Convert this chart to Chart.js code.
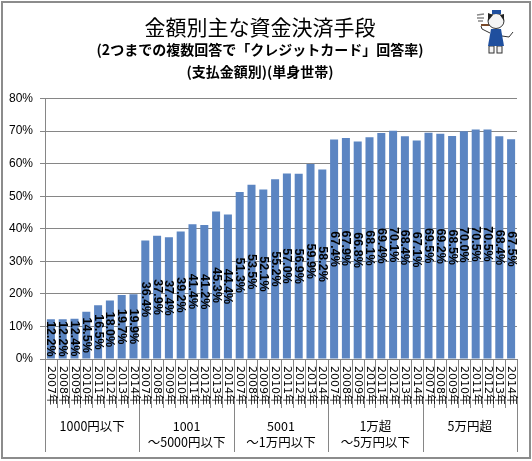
<!DOCTYPE html>
<html>
<head>
<meta charset="utf-8">
<style>
html, body { margin: 0; padding: 0; background: #fff; }
#wrap { position: relative; width: 532px; height: 461px; }
canvas { display: block; }
</style>
<script src="https://cdn.jsdelivr.net/npm/chart.js@4"></script>
</head>
<body>
<div id="wrap"><canvas id="chart" width="532" height="461"></canvas></div>
<script>
const years = ['2007年', '2008年', '2009年', '2010年', '2011年', '2012年', '2013年', '2014年'];
const groupLabels = [['1000円以下'], ['1001', '〜5000円以下'], ['5001', '〜1万円以下'], ['1万超', '〜5万円以下'], ['5万円超']];
const under1000 = [12.2, 12.2, 12.4, 14.5, 16.5, 18.0, 19.7, 19.9];
const under5000 = [36.4, 37.9, 37.4, 39.2, 41.4, 41.2, 45.3, 44.4];
const under10000 = [51.3, 53.5, 52.1, 55.2, 57.0, 56.9, 59.9, 58.2];
const under50000 = [67.4, 67.9, 66.8, 68.1, 69.4, 70.1, 68.4, 67.1];
const over50000 = [69.5, 69.2, 68.5, 70.0, 70.5, 70.5, 68.4, 67.5];

const font = '"Noto Sans CJK JP", sans-serif';
const grey = '#868686';
const values = [...under1000, ...under5000, ...under10000, ...under50000, ...over50000];
const labels = [];
groupLabels.forEach((g, i) => years.forEach(y => labels.push([i, y])));

// outer frame and the tick marks / group dividers under the axis
const framePlugin = {
    id: 'frame',
    beforeDraw(chart) {
        const c = chart.ctx;
        c.save();
        c.strokeStyle = '#8c8c8c';
        c.lineWidth = 2;
        c.strokeRect(2, 2, 528, 456);
        c.restore();
    },
    afterDraw(chart) {
        const c = chart.ctx, x = chart.scales.x, a = chart.chartArea;
        const step = x.getPixelForValue(1) - x.getPixelForValue(0);
        c.save();
        c.strokeStyle = grey;
        c.lineWidth = 1;
        c.fillStyle = '#000';
        for (let i = 0; i <= labels.length; i++) {
            const px = Math.round(x.getPixelForValue(0) - step / 2 + i * step) + 0.5;
            const major = i % years.length === 0;
            c.beginPath();
            c.moveTo(px, a.bottom);
            c.lineTo(px, major ? 452 : 408);
            c.stroke();
        }
        // rotated year labels
        c.font = '11px "DejaVu Sans", "Noto Sans CJK JP", sans-serif';
        c.textAlign = 'left';
        c.textBaseline = 'middle';
        labels.forEach((l, i) => {
            c.save();
            c.translate(x.getPixelForValue(i), 366);
            c.rotate(Math.PI / 2);
            c.fillText(l[1], 0, 0);
            c.restore();
        });
        // group names
        c.font = '12.5px ' + font;
        c.textAlign = 'center';
        groupLabels.forEach((g, i) => {
            const mid = (x.getPixelForValue(i * years.length) + x.getPixelForValue(i * years.length + years.length - 1)) / 2;
            g.forEach((t, j) => c.fillText(t, mid, 426 + j * 16.5));
        });
        c.restore();
    }
};

// values turned 90 degrees, centred in each bar
const valueLabelPlugin = {
    id: 'valueLabels',
    afterDatasetsDraw(chart) {
        const c = chart.ctx;
        c.save();
        c.font = 'bold 12.5px "Liberation Sans", sans-serif';
        c.fillStyle = '#000';
        c.textAlign = 'center';
        c.textBaseline = 'middle';
        chart.getDatasetMeta(0).data.forEach((bar, i) => {
            c.save();
            c.translate(bar.x, (bar.y + bar.base) / 2);
            c.rotate(Math.PI / 2);
            c.fillText(values[i].toFixed(1) + '%', 0, 0);
            c.restore();
        });
        c.restore();
    }
};

// the little mascot in the top right corner
const mascotPlugin = {
    id: 'mascot',
    afterDraw(chart) {
        const c = chart.ctx;
        c.save();
        c.translate(-7, 0);
        c.strokeStyle = '#333';
        c.lineWidth = 1;
        // tail
        c.beginPath(); c.moveTo(509, 36); c.lineTo(516, 37); c.lineTo(520, 32); c.stroke();
        // arm and pipe
        c.beginPath(); c.moveTo(497, 33); c.lineTo(489, 29); c.lineTo(488, 26); c.stroke();
        c.strokeStyle = '#7a4a2a';
        c.lineWidth = 2;
        c.beginPath(); c.moveTo(488, 25); c.lineTo(497, 25); c.stroke();
        // smoke
        c.strokeStyle = '#888';
        c.lineWidth = 1.5;
        c.beginPath(); c.moveTo(484, 15); c.lineTo(491, 14); c.moveTo(484, 18); c.lineTo(491, 18); c.moveTo(485, 21); c.lineTo(490, 21); c.stroke();
        // legs
        c.strokeStyle = '#333';
        c.lineWidth = 1;
        c.fillStyle = '#f4f4f4';
        c.fillRect(496, 46, 5, 7); c.strokeRect(496, 46, 5, 7);
        c.fillRect(504, 46, 5, 7); c.strokeRect(504, 46, 5, 7);
        // vest
        c.fillStyle = '#1f4f9e';
        c.beginPath(); c.moveTo(498, 29); c.lineTo(508, 29); c.lineTo(511, 46); c.lineTo(495, 46); c.closePath(); c.fill();
        // head
        c.fillStyle = '#f4f4f4';
        c.beginPath(); c.ellipse(503, 21, 8, 7.5, 0, 0, Math.PI * 2); c.fill(); c.stroke();
        c.fillStyle = '#222';
        c.beginPath(); c.moveTo(495, 21); c.lineTo(495, 13); c.lineTo(500, 15); c.closePath(); c.fill();
        c.beginPath(); c.moveTo(511, 21); c.lineTo(511, 14); c.lineTo(507, 15); c.closePath(); c.fill();
        // hat
        c.fillStyle = '#1f4f9e';
        c.fillRect(499, 10, 9, 4);
        c.restore();
    }
};

new Chart(document.getElementById('chart'), {
    type: 'bar',
    data: {
        labels: labels.map(l => l[1]),
        datasets: [{
            data: values,
            backgroundColor: '#5b85c2',
            categoryPercentage: 1,
            barPercentage: 0.68,
        }]
    },
    options: {
        responsive: false,
        animation: false,
        layout: { padding: { left: 3, right: 15, top: 8, bottom: 94 } },
        plugins: {
            legend: { display: false },
            tooltip: { enabled: false },
            title: {
                display: true,
                text: '金額別主な資金決済手段',
                color: '#000',
                font: { family: font, size: 21, weight: 'normal' },
                padding: { top: 6, bottom: 0 },
            },
            subtitle: {
                display: true,
                text: ['(2つまでの複数回答で「クレジットカード」回答率)', '(支払金額別)(単身世帯)'],
                color: '#000',
                font: { family: font, size: 14, weight: 'bold', lineHeight: 1.55 },
                padding: { top: 0, bottom: 16 },
            },
        },
        scales: {
            x: {
                grid: { display: false },
                border: { color: grey },
                ticks: { display: false },
            },
            y: {
                min: 0,
                max: 80,
                afterFit(scale) { scale.width = 42; },
                grid: { color: grey, tickLength: 5 },
                border: { color: grey },
                ticks: {
                    stepSize: 10,
                    padding: 7,
                    color: '#000',
                    font: { family: '"Liberation Sans", sans-serif', size: 12 },
                    callback: v => v + '%',
                },
            },
        },
    },
    plugins: [framePlugin, valueLabelPlugin, mascotPlugin],
});
</script>
</body>
</html>
